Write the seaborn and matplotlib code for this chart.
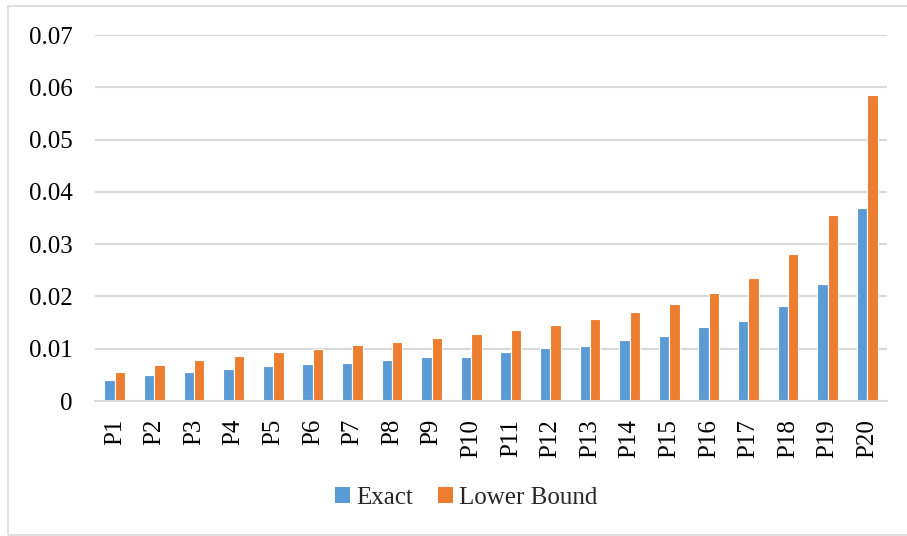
import matplotlib
matplotlib.use("Agg")
import matplotlib.pyplot as plt
from matplotlib.patches import Rectangle
import pandas as pd
import seaborn as sns

# Category labels and the two series
categories = [f"P{i}" for i in range(1, 21)]
exact = [0.0040, 0.0049, 0.0055, 0.0061, 0.0066, 0.0071, 0.0073, 0.0078, 0.0084, 0.0085,
         0.0094, 0.0101, 0.0106, 0.0116, 0.0125, 0.0142, 0.0153, 0.0181, 0.0224, 0.0369]
lower_bound = [0.0056, 0.0069, 0.0078, 0.0086, 0.0094, 0.0100, 0.0107, 0.0113, 0.0120, 0.0128,
               0.0136, 0.0145, 0.0157, 0.0170, 0.0185, 0.0206, 0.0236, 0.0282, 0.0355, 0.0586]
series_names = ["Exact", "Lower Bound"]
colors = ["#5B9BD5", "#ED7D31"]
y_ticks = [0, 0.01, 0.02, 0.03, 0.04, 0.05, 0.06, 0.07]
y_tick_labels = ["0", "0.01", "0.02", "0.03", "0.04", "0.05", "0.06", "0.07"]

df = pd.DataFrame({
    "cat": categories * 2,
    "value": exact + lower_bound,
    "series": [series_names[0]] * len(categories) + [series_names[1]] * len(categories),
})

sns.set_theme(style="white")
plt.rcParams["font.family"] = ["Liberation Serif", "DejaVu Serif"]

fig = plt.figure(figsize=(9.07, 5.36), dpi=100)
ax = fig.add_axes([95 / 907, 135 / 536, (887 - 95) / 907, (401 - 35) / 536])

sns.barplot(data=df, x="cat", y="value", hue="series", order=categories,
            hue_order=series_names, palette=colors, width=0.53,
            edgecolor="white", linewidth=0.8, saturation=1, ax=ax, legend=False)

ax.set_ylim(0, 0.07)
ax.set_xlim(-0.5, len(categories) - 0.5)
ax.set_yticks(y_ticks)
ax.set_yticklabels(y_tick_labels)
ax.set_xlabel("")
ax.set_ylabel("")
ax.grid(axis="y", color="#D9D9D9", linewidth=1.5)
ax.set_axisbelow(True)
for side in ["top", "right", "left"]:
    ax.spines[side].set_visible(False)
ax.spines["bottom"].set_color("#D9D9D9")
ax.spines["bottom"].set_linewidth(1.5)
ax.tick_params(axis="y", length=0, pad=16, labelsize=18, labelcolor="#000000")
ax.tick_params(axis="x", length=0, pad=13, labelsize=18, labelcolor="#000000", rotation=90)

# Legend below the plot
handles = [Rectangle((0, 0), 1, 1, facecolor=c, edgecolor="none") for c in colors]
fig.legend(handles, series_names, loc="center", bbox_to_anchor=(466 / 907, 1 - 498 / 536),
           ncol=2, frameon=False, fontsize=18, handlelength=0.6, handleheight=0.6,
           handletextpad=0.25, columnspacing=1.0)

# Chart area outline
fig.patches.append(Rectangle((7.5 / 907, 1 / 536), 1.2, 529 / 536, transform=fig.transFigure,
                             fill=False, edgecolor="#D9D9D9", linewidth=1.2))

fig.savefig("out.png", dpi=100)
